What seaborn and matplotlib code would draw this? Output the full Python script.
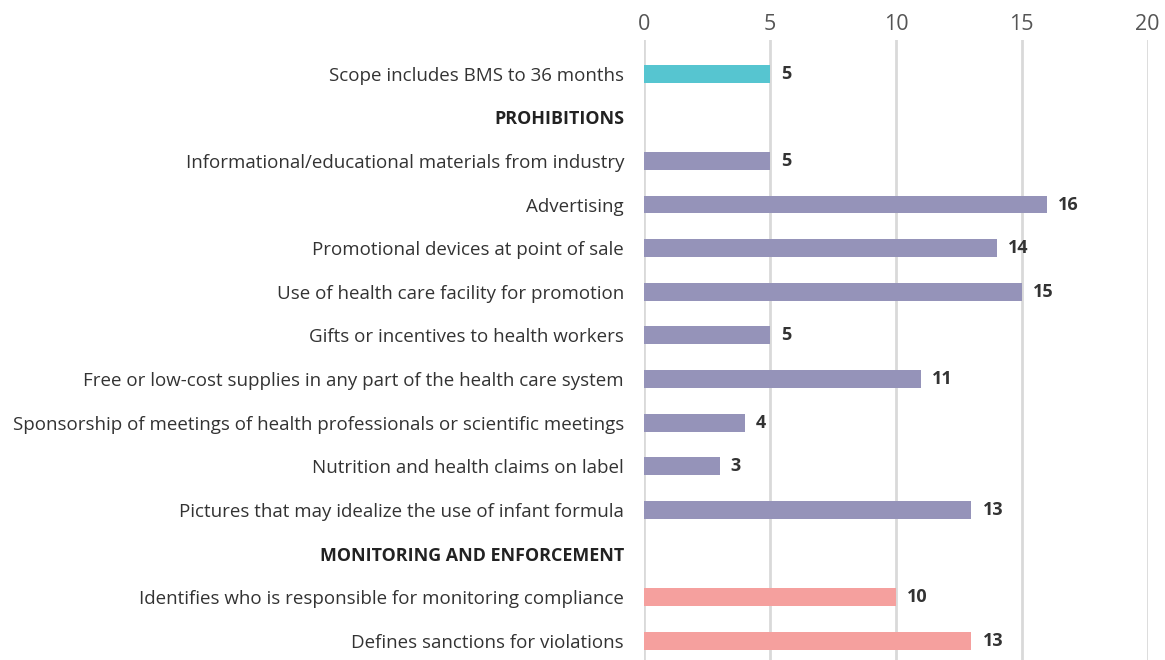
import numpy as np
import pandas as pd
import matplotlib.pyplot as plt
import seaborn as sns

# Datos
etiquetas = [
    "Scope includes BMS to 36 months",
    "PROHIBITIONS",
    "Informational/educational materials from industry",
    "Advertising",
    "Promotional devices at point of sale",
    "Use of health care facility for promotion",
    "Gifts or incentives to health workers",
    "Free or low-cost supplies in any part of the health care system",
    "Sponsorship of meetings of health professionals or scientific meetings",
    "Nutrition and health claims on label",
    "Pictures that may idealize the use of infant formula",
    "MONITORING AND ENFORCEMENT",
    "Identifies who is responsible for monitoring compliance",
    "Defines sanctions for violations",
]
valores = [5, np.nan, 5, 16, 14, 15, 5, 11, 4, 3, 13, np.nan, 10, 13]
grupos = ["scope", "header", "prohib", "prohib", "prohib", "prohib", "prohib",
          "prohib", "prohib", "prohib", "prohib", "header", "monit", "monit"]
colores_grupo = {"scope": "#56c5d0", "header": "#ffffff",
                 "prohib": "#9593b9", "monit": "#f5a09e"}
ticks_x = [0, 5, 10, 15, 20]

df = pd.DataFrame({"etiqueta": etiquetas, "valor": valores, "grupo": grupos})
paleta = [colores_grupo[g] for g in grupos]

plt.rcParams['font.family'] = ['Open Sans', 'DejaVu Sans']

fig, ax = plt.subplots(figsize=(11.65, 6.6), dpi=100)
fig.subplots_adjust(left=0.553, right=0.985, top=0.94, bottom=0.0)

sns.barplot(data=df, x="valor", y="etiqueta", hue="etiqueta", palette=paleta,
            legend=False, width=0.41, saturation=1, ax=ax, orient="h")

# Etiquetas de valor
for cont, v in zip(ax.containers, valores):
    if np.isnan(v):
        continue
    ax.bar_label(cont, labels=[f"{int(v)}"], padding=8, fontsize=13,
                 fontweight="bold", color="#333333")

ax.set_xlim(0, 20)
ax.set_ylim(13.44, -0.78)
ax.set_xticks(ticks_x)
ax.xaxis.tick_top()
ax.tick_params(axis="x", length=0, pad=3, labelsize=15.5, labelcolor="#555555")
ax.tick_params(axis="y", length=0, pad=14.5, labelsize=13.5, labelcolor="#333333")
for t, g in zip(ax.get_yticklabels(), grupos):
    if g == "header":
        t.set_fontweight("bold")
        t.set_fontsize(12.9)
        t.set_color("#222222")

ax.grid(axis="x", color="#d9d9d9", linewidth=2)
ax.set_axisbelow(True)
for s in ax.spines.values():
    s.set_visible(False)
ax.set_xlabel("")
ax.set_ylabel("")

plt.savefig("out.png", dpi=100)
plt.close()
